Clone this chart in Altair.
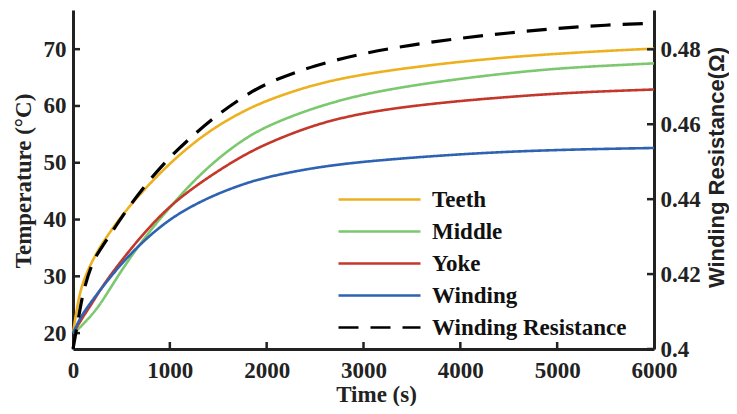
import altair as alt
import pandas as pd

# ---- data ----
time_s = [0, 50, 100, 200, 300, 500, 750, 1000, 1250, 1500, 1750, 2000, 2500, 3000, 3500, 4000, 4500, 5000, 5500, 6000]
teeth = [20, 25.5, 29.0, 32.8, 35.8, 40.7, 45.6, 49.9, 53.6, 56.6, 59.0, 61.0, 63.9, 65.6, 66.8, 67.8, 68.6, 69.2, 69.7, 70.1]
middle = [20, 20.6, 21.5, 23.3, 25.5, 31.1, 37.1, 42.2, 46.9, 50.8, 54.0, 56.5, 59.8, 62.1, 63.6, 64.8, 65.8, 66.6, 67.1, 67.5]
yoke = [20, 21.3, 22.8, 25.3, 28.2, 32.8, 38.0, 42.4, 45.7, 48.6, 51.2, 53.4, 56.8, 58.8, 60.0, 60.9, 61.6, 62.2, 62.6, 62.9]
winding = [20, 21.8, 23.4, 25.8, 28.0, 32.3, 36.6, 40.1, 42.6, 44.6, 46.2, 47.5, 49.2, 50.2, 50.9, 51.5, 51.95, 52.25, 52.45, 52.6]
resistance = [0.4000, 0.4072, 0.4150, 0.4235, 0.4272, 0.4352, 0.4440, 0.4513, 0.4573, 0.4627, 0.4672, 0.4711,
              0.4758, 0.4790, 0.4812, 0.4830, 0.4844, 0.4856, 0.4865, 0.4870]

series_names = ["Teeth", "Middle", "Yoke", "Winding", "Winding Resistance"]
series_colors = ["#EDB120", "#7BC86F", "#C4372B", "#2E62B2", "#000000"]
series_dashes = [[1, 0], [1, 0], [1, 0], [1, 0], [20, 12]]

x_ticks = [0, 1000, 2000, 3000, 4000, 5000, 6000]
x_inner_ticks = [1000, 2000, 3000, 4000, 5000]
left_ticks = [20, 30, 40, 50, 60, 70]
right_ticks = [0.40, 0.42, 0.44, 0.46, 0.48]

# ---- tables ----
rows = []
for name, vals in zip(series_names[:4], [teeth, middle, yoke, winding]):
    for t, v in zip(time_s, vals):
        rows.append({"time": t, "series": name, "value": v})
temp_df = pd.DataFrame(rows)
res_df = pd.DataFrame({"time": time_s, "series": "Winding Resistance", "value": resistance})
left_tick_df = pd.DataFrame({"value": left_ticks})
right_tick_df = pd.DataFrame({"value": right_ticks})
x_tick_df = pd.DataFrame({"time": x_inner_ticks})

SERIF = "Liberation Serif, Tinos, Times New Roman, Times, Nimbus Roman, DejaVu Serif, serif"
SANS = "Liberation Sans, Arimo, Arial, Helvetica, sans-serif"
INK = "#222222"
W, H = 581, 339

x_enc = alt.X(
    "time:Q",
    scale=alt.Scale(domain=[0, 6000], nice=False, zero=False),
    axis=alt.Axis(values=x_ticks, format="d", title="Time (s)", labelFlush=False,
                  labelPadding=10, titleX=303, titleY=52, titleBaseline="alphabetic",
                  titleAlign="center"),
)
yl_enc = alt.Y(
    "value:Q",
    scale=alt.Scale(domain=[17.2, 76.9], nice=False, zero=False),
    axis=alt.Axis(values=left_ticks, orient="left", title="Temperature (°C)", titleAngle=270,
                  titleX=-43, titleY=H / 2 + 1, titleBaseline="alphabetic", titleAlign="center",
                  labelPadding=7),
)
yr_enc = alt.Y(
    "value:Q",
    scale=alt.Scale(domain=[0.4, 0.4905], nice=False, zero=False),
    axis=alt.Axis(values=right_ticks, format=".2~f", orient="right",
                  title="Winding Resistance(Ω)", titleAngle=270, titleX=69, titleY=157,
                  titleBaseline="alphabetic", titleAlign="center",
                  titleFont=SANS, titleFontSize=22, labelPadding=6),
)

legend = alt.Legend(
    orient="none", legendX=264, legendY=178, title=None,
    symbolType="stroke", symbolSize=82 * 82, symbolStrokeWidth=2.6,
    labelFont=SERIF, labelFontSize=23, labelFontWeight="bold", labelColor="#111111",
    labelOffset=10, labelLimit=400, rowPadding=8, clipHeight=23, padding=0,
)
color_enc = alt.Color("series:N", scale=alt.Scale(domain=series_names, range=series_colors), legend=legend)
dash_enc = alt.StrokeDash("series:N", scale=alt.Scale(domain=series_names, range=series_dashes), legend=legend)

temp_lines = alt.Chart(temp_df).mark_line(strokeWidth=2.6, interpolate="basis").encode(
    x=x_enc, y=yl_enc, color=color_enc, strokeDash=dash_enc,
    order=alt.Order("time:Q"),
)
left_tick_marks = alt.Chart(left_tick_df).mark_rule(color=INK, strokeWidth=2.5).encode(
    y=yl_enc, x=alt.value(0), x2=alt.value(7)
)
bottom_tick_marks = alt.Chart(x_tick_df).mark_rule(color=INK, strokeWidth=2.5).encode(
    x=x_enc, y=alt.value(H), y2=alt.value(H - 7)
)
res_line = alt.Chart(res_df).mark_line(strokeWidth=3.2, interpolate="basis").encode(
    x=x_enc, y=yr_enc, color=color_enc, strokeDash=dash_enc,
    order=alt.Order("time:Q"),
)
right_tick_marks = alt.Chart(right_tick_df).mark_rule(color=INK, strokeWidth=2.5).encode(
    y=yr_enc, x=alt.value(W), x2=alt.value(W - 7)
)

left_layer = alt.layer(left_tick_marks, bottom_tick_marks, temp_lines)
right_layer = alt.layer(right_tick_marks, res_line)

chart = (
    alt.layer(left_layer, right_layer)
    .resolve_scale(y="independent")
    .properties(
        width=W, height=H,
        autosize=alt.AutoSizeParams(type="none"),
        padding={"left": 65, "top": 2, "right": 75, "bottom": 57},
    )
    .configure_axis(
        labelFont=SERIF, labelFontSize=23, labelFontWeight="bold", labelColor=INK,
        titleFont=SERIF, titleFontSize=23, titleFontWeight="bold", titleColor=INK,
        domainColor=INK, domainWidth=3, ticks=False, tickSize=0, grid=False,
    )
    .configure_view(stroke=None)
)

chart.save("out.html", embed_options={"renderer": "svg", "actions": False})
